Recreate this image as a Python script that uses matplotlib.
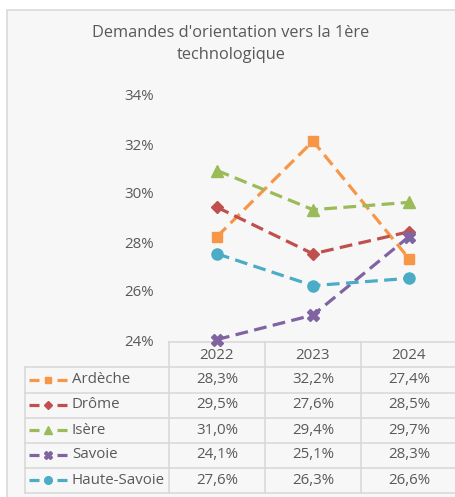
import matplotlib.pyplot as plt
from matplotlib.patches import Rectangle

plt.rcParams["font.family"] = ["Open Sans", "DejaVu Sans"]

years = ["2022", "2023", "2024"]
departements = ["Ardèche", "Drôme", "Isère", "Savoie", "Haute-Savoie"]
ardeche = [28.3, 32.2, 27.4]
drome = [29.5, 27.6, 28.5]
isere = [31.0, 29.4, 29.7]
savoie = [24.1, 25.1, 28.3]
haute_savoie = [27.6, 26.3, 26.6]
series = [ardeche, drome, isere, savoie, haute_savoie]

colors = ["#F79646", "#C0504D", "#9BBB59", "#8064A2", "#4BACC6"]
markers = ["s", "D", "^", "X", "o"]
msizes = [7.5, 6, 8, 9, 8]
key_sizes = [5, 4.5, 5.5, 6, 5.5]
yticks = [24, 26, 28, 30, 32, 34]

W, H = 456, 497
TXT = "#595959"
GRID = "#D9D9D9"
BG = "#F7F7F7"
FS = 10.8

fig = plt.figure(figsize=(W / 100, H / 100), dpi=100)
fig.patch.set_facecolor("white")

# background layer in pixel coordinates (y down)
bg = fig.add_axes([0, 0, 1, 1])
bg.set_xlim(0, W)
bg.set_ylim(H, 0)
bg.axis("off")
bg.add_patch(Rectangle((7.5, 9.5), W, H, facecolor=BG, edgecolor=GRID, lw=1.2))

bg.text(231, 33, "Demandes d'orientation vers la 1ère", ha="center", va="center",
        fontsize=11.8, color=TXT)
bg.text(231, 55, "technologique", ha="center", va="center", fontsize=11.8, color=TXT)


def fx(px):
    return px / W


def fy(py):
    return 1 - py / H


# line chart
left, right, top, bottom = 169, 457, 97, 342
ax = fig.add_axes([fx(left), fy(bottom), fx(right) - fx(left), fy(top) - fy(bottom)])
ax.patch.set_alpha(0)
for s in ax.spines.values():
    s.set_visible(False)
ax.set_xlim(-0.5, 2.5)
ax.set_ylim(24, 34)
ax.set_xticks([])
ax.set_yticks([])

for vals, c, m, ms in zip(series, colors, markers, msizes):
    ax.plot(range(len(years)), vals, color=c, lw=2.3, ls=(0, (4, 2)),
            marker=m, markersize=ms, markeredgecolor=c, clip_on=False)

for t in yticks:
    py = bottom - (t - 24) / 10 * (bottom - top)
    bg.text(154, py, f"{t}%", ha="right", va="center", fontsize=FS, color=TXT)

# data table
col_x = [25, 169, 265, 361, 457]
row_y = [342, 367, 392.5, 417.5, 442.5, 467.5, 492.5]
lc = dict(color=GRID, lw=1.2)
bg.plot([col_x[1], col_x[-1]], [row_y[0], row_y[0]], **lc)
for y in row_y[1:]:
    bg.plot([col_x[0], col_x[-1]], [y, y], **lc)
for i, x in enumerate(col_x):
    y0 = row_y[1] if i == 0 else row_y[0]
    bg.plot([x, x], [y0, row_y[-1]], **lc)

for j, yr in enumerate(years):
    cx = (col_x[j + 1] + col_x[j + 2]) / 2
    bg.text(cx, (row_y[0] + row_y[1]) / 2 + 1, yr, ha="center", va="center",
            fontsize=FS, color=TXT)

for i, (name, vals, c, m, ks) in enumerate(zip(departements, series, colors, markers, key_sizes)):
    cy = (row_y[i + 1] + row_y[i + 2]) / 2
    # legend key: dash, marker, dash
    bg.plot([29, 39], [cy, cy], color=c, lw=2.3, solid_capstyle="butt")
    bg.plot([57, 67], [cy, cy], color=c, lw=2.3, solid_capstyle="butt")
    bg.plot([48], [cy], marker=m, color=c, markersize=ks)
    bg.text(72, cy, name, ha="left", va="center", fontsize=FS, color=TXT)
    for j, v in enumerate(vals):
        cx = (col_x[j + 1] + col_x[j + 2]) / 2
        bg.text(cx, cy, f"{v:.1f}%".replace(".", ","), ha="center", va="center",
                fontsize=FS, color=TXT)

fig.savefig("out.png", dpi=100, facecolor=fig.get_facecolor())
